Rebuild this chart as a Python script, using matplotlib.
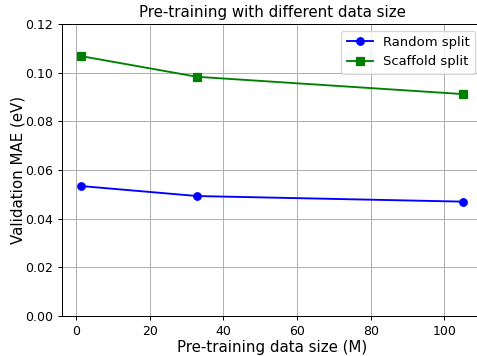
import matplotlib
matplotlib.use("Agg")
import matplotlib.pyplot as plt

data_size = [1.4, 32.9, 105.0]
random_split = [0.0534, 0.0493, 0.0470]
scaffold_split = [0.1068, 0.0983, 0.0912]

W, H = 477, 356
DPI = 90
fig = plt.figure(figsize=(W / DPI, H / DPI), dpi=DPI)
ax = fig.add_axes([62 / W, 1 - 316 / H, (482 - 62) / W, (316 - 24) / H])
ax.plot(data_size, random_split, color="blue", marker="o", label="Random split")
ax.plot(data_size, scaffold_split, color="green", marker="s", label="Scaffold split")
ax.set_ylim(0, 0.12)
ax.set_xlim(-3.8, 110.2)
ax.set_xlabel("Pre-training data size (M)", fontsize=12, labelpad=1.5)
ax.set_ylabel("Validation MAE (eV)", fontsize=12, labelpad=0)
ax.set_title("Pre-training with different data size", fontsize=12)
ax.grid(True)
ax.legend(loc="upper right", fontsize=10.5)
fig.savefig("out.png", dpi=DPI)
